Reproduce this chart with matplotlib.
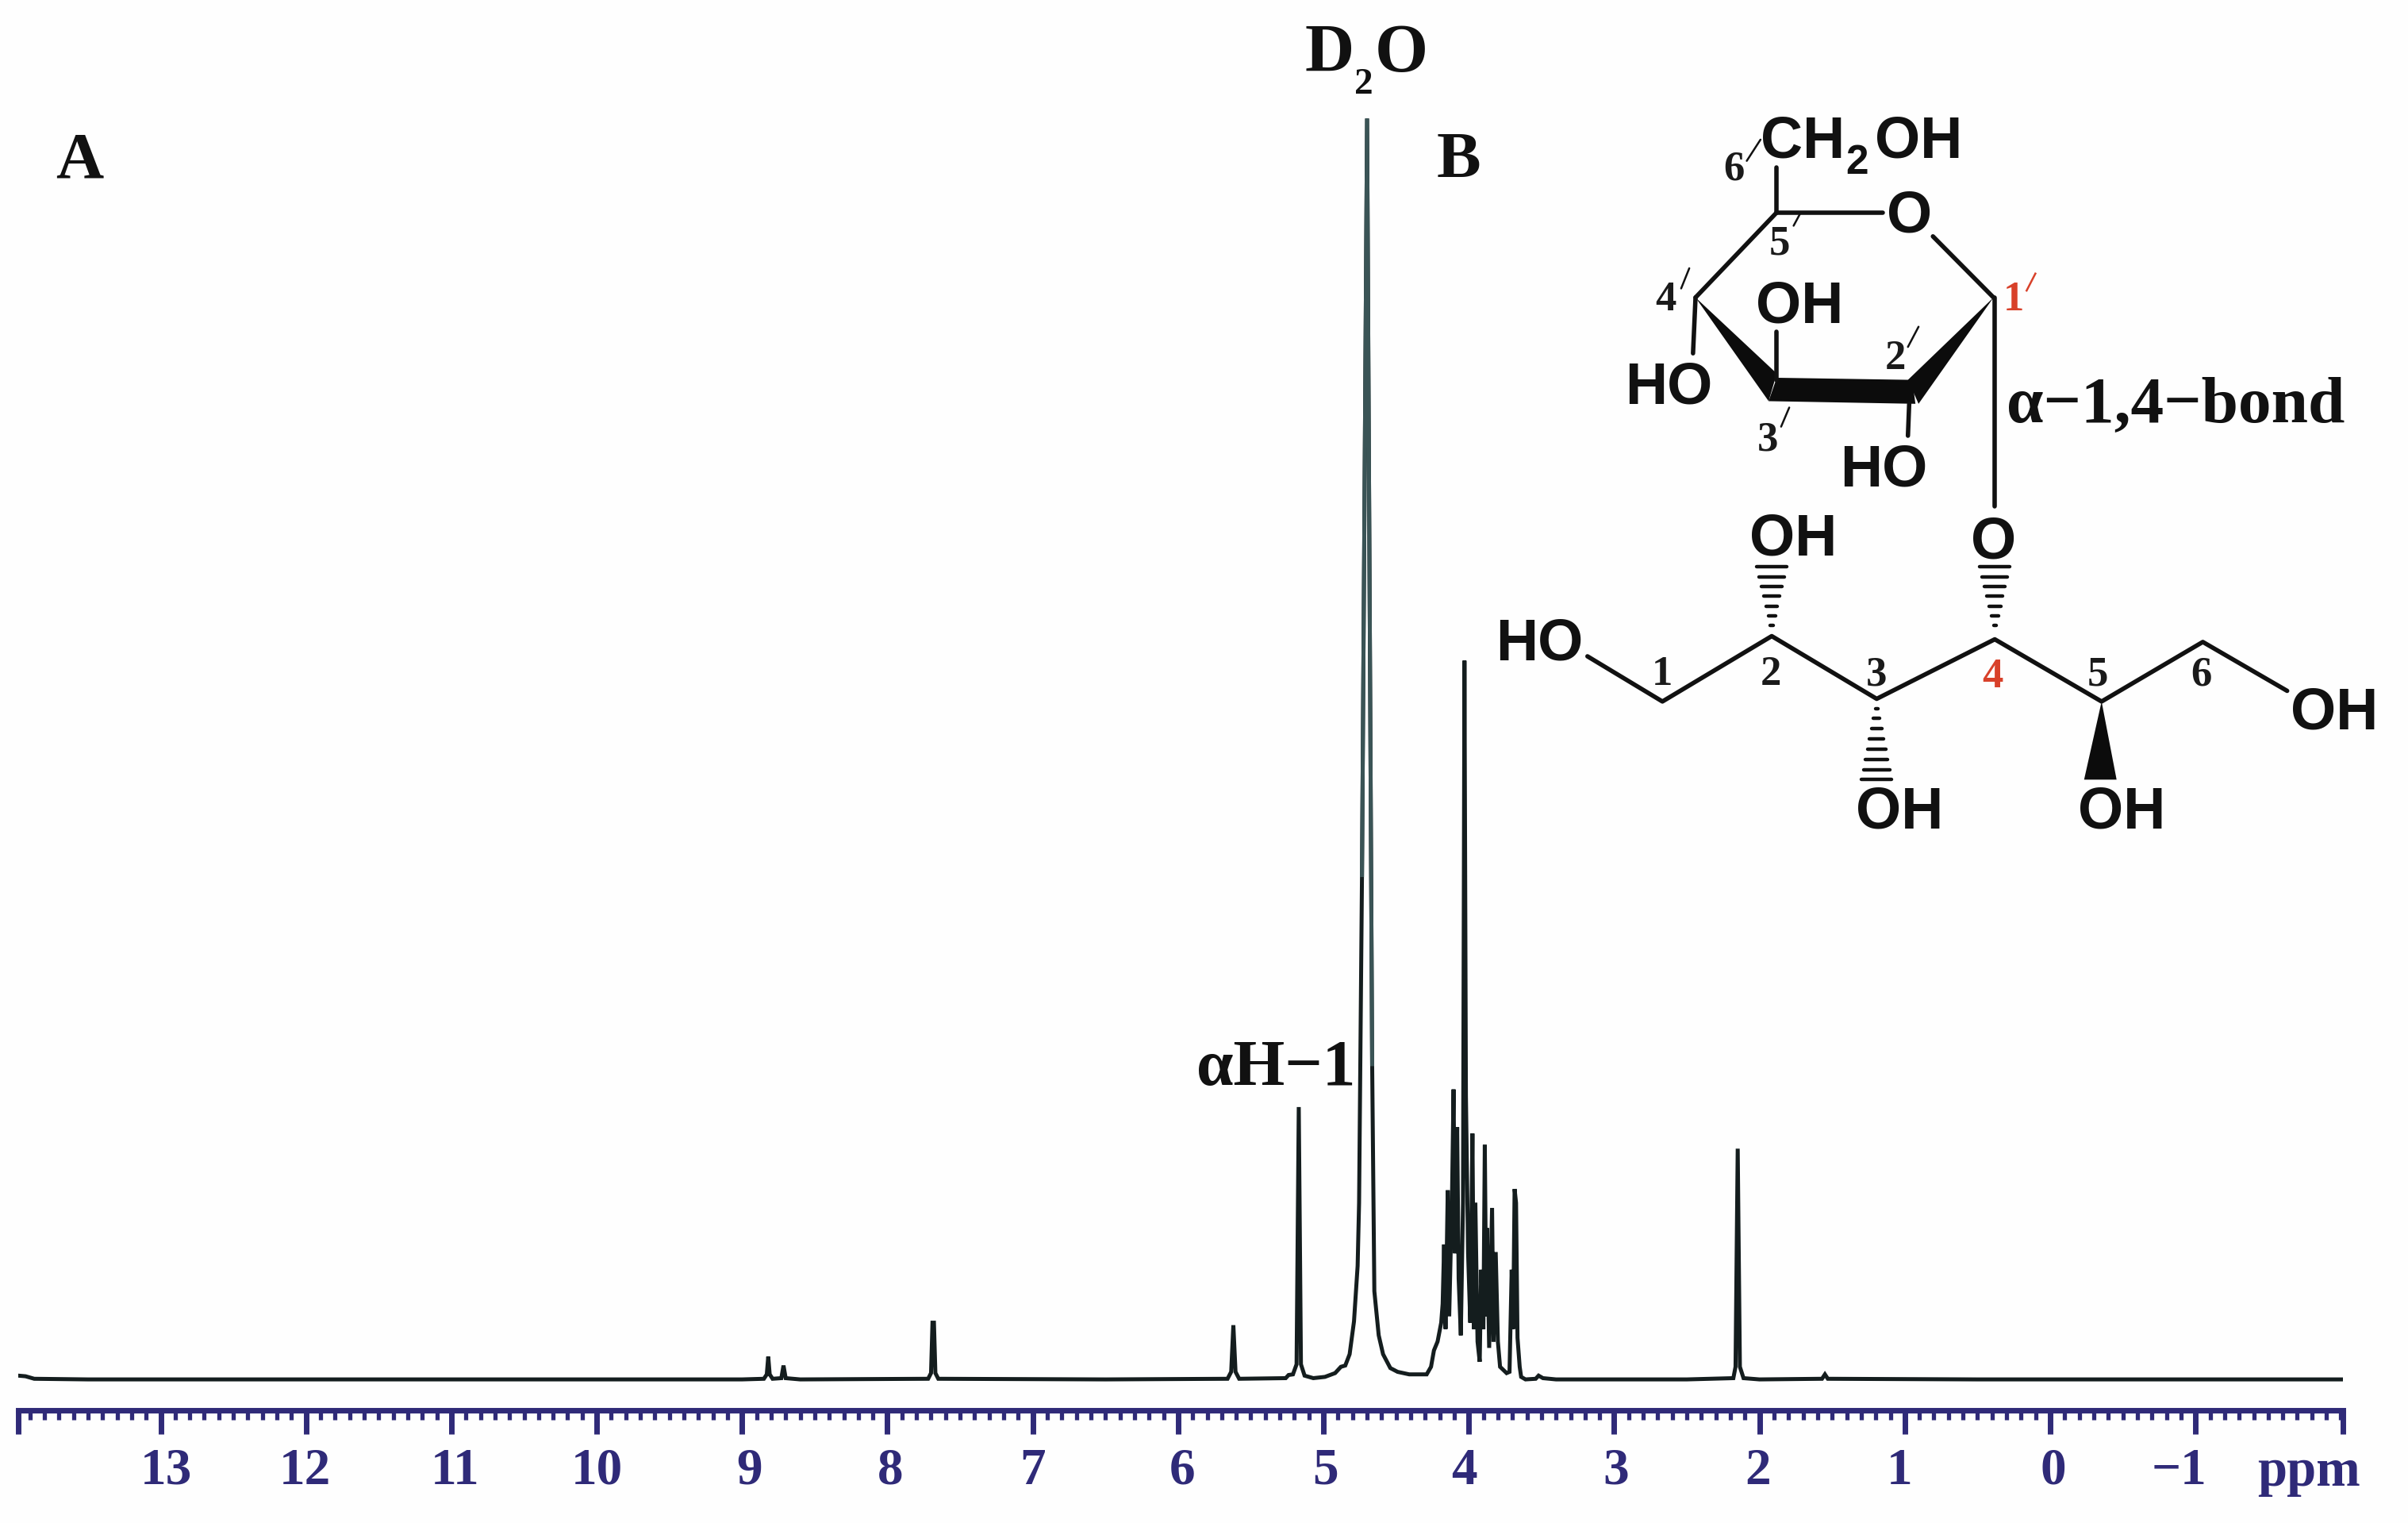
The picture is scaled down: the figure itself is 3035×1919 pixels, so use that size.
import matplotlib
matplotlib.use('Agg')
import matplotlib.pyplot as plt
from matplotlib.patches import Polygon
from matplotlib.transforms import ScaledTranslation
import numpy as np

# spectrum, intensity as percent of the D2O top
ppm = [13.98, 13.93, 13.87, 13.5, 12.0, 10.5, 9.0,
       8.85, 8.83, 8.82, 8.81, 8.79, 8.73, 8.715, 8.70, 8.6,
       7.72, 7.70, 7.69, 7.68, 7.67, 7.65, 6.5, 5.66,
       5.635, 5.62, 5.605, 5.58, 5.26, 5.24, 5.21, 5.185, 5.17, 5.155, 5.13, 5.07, 4.99,
       4.92, 4.88, 4.85, 4.82, 4.79, 4.765, 4.755, 4.735, 4.70, 4.665,
       4.65, 4.62, 4.59, 4.54, 4.49, 4.41, 4.29, 4.26, 4.24, 4.215, 4.19,
       4.18, 4.17, 4.16, 4.145, 4.135, 4.115, 4.105, 4.095, 4.08, 4.07, 4.055, 4.04,
       4.03, 4.02, 4.005, 3.99, 3.975, 3.965, 3.955, 3.94, 3.925, 3.915, 3.90, 3.89,
       3.88, 3.875, 3.86, 3.84, 3.83, 3.815, 3.80, 3.785, 3.74, 3.72, 3.705, 3.695,
       3.685, 3.675, 3.665, 3.65, 3.64, 3.61, 3.54, 3.52, 3.49, 3.4, 2.5, 2.18,
       2.165, 2.15, 2.135, 2.11, 2.0, 1.57, 1.55, 1.53, 0.5, -1.0, -2.014]
intensity = [0.3, 0.25, 0.05, 0.0, 0.0, 0.0, 0.0,
             0.05, 0.4, 1.8, 0.4, 0.05, 0.1, 1.1, 0.1, 0.0,
             0.05, 0.5, 4.5, 4.5, 0.5, 0.05, 0.0, 0.05,
             0.6, 4.3, 0.6, 0.05, 0.1, 0.35, 0.4, 1.2, 21.6, 1.2, 0.3, 0.1, 0.2,
             0.5, 1.0, 1.1, 2.0, 4.6, 9.0, 14.0, 40.0, 100.0, 25.0,
             7.0, 3.5, 2.0, 0.9, 0.6, 0.4, 0.4, 1.0, 2.3, 3.0, 4.5,
             6.0, 10.7, 4.0, 15.0, 5.0, 15.0, 23.0, 10.0, 20.0, 8.0, 3.5, 14.0,
             57.0, 22.5, 10.0, 4.5, 19.5, 4.0, 14.0, 3.0, 1.4, 8.7, 4.0, 18.6,
             5.0, 12.0, 2.5, 13.6, 3.0, 10.1, 3.0, 1.0, 0.5, 0.6, 8.7, 4.0,
             15.1, 14.0, 3.3, 1.0, 0.2, 0.0, 0.05, 0.3, 0.1, 0.0, 0.0, 0.1,
             1.0, 18.3, 1.0, 0.1, 0.0, 0.05, 0.4, 0.05, 0.0, 0.0, 0.0]

major_ticks = [13, 12, 11, 10, 9, 8, 7, 6, 5, 4, 3, 2, 1, 0, -1]
tick_labels = ['13', '12', '11', '10', '9', '8', '7', '6', '5', '4', '3', '2', '1', '0', '\u22121']

W, H = 3035, 1919
navy = '#2f2a78'
dark = '#141d1e'
serif = 'Liberation Serif'
sans = 'Liberation Sans'

fig = plt.figure(figsize=(W / 100, H / 100), dpi=100, facecolor='#fefefe')

# spectrum axes, the bottom spine is the ppm ruler
ax = fig.add_axes([23 / W, (H - 1777) / H, (2953 - 23) / W, 1777 / H])
ax.patch.set_alpha(0)
ax.plot(ppm, intensity, color=dark, lw=3.6, solid_joinstyle='miter')
ppm_arr = np.array(ppm)
int_arr = np.array(intensity)
top = (ppm_arr < 4.74) & (ppm_arr > 4.66)
ax.plot(ppm_arr[top], int_arr[top], color='#3a5456', lw=3.6, solid_joinstyle='miter')
ax.set_xlim(13.98, -2.014)
ax.set_ylim(-2.45, 109.4)
for s in ['top', 'left', 'right']:
    ax.spines[s].set_visible(False)
ax.spines['bottom'].set_color(navy)
ax.spines['bottom'].set_linewidth(5)
ax.set_yticks([])
ax.set_xticks(major_ticks + [13.98, -2.014])
ax.set_xticklabels(tick_labels + ['', ''], fontfamily=serif, fontweight='bold', fontsize=47, color=navy)
ax.set_xticks(np.arange(-20, 140) / 10, minor=True)
ax.tick_params(axis='x', which='major', length=21.5, width=5, color=navy, pad=12)
ax.tick_params(axis='x', which='minor', length=8.5, width=3.8, color=navy)

# the labels in the picture sit a little off their ticks
shifts = [7, -1, 5, 0, 9, 4, 0, 5, 2, -6, 2, -2, -7, 4, -21]
for lab, dx in zip(ax.get_xticklabels(), shifts):
    lab.set_transform(lab.get_transform() + ScaledTranslation(dx / 100, 0, fig.dpi_scale_trans))

# overlay in image pixels for the annotations and the molecule
ov = fig.add_axes([0, 0, 1, 1])
ov.set_xlim(0, W)
ov.set_ylim(H, 0)
ov.axis('off')
ov.patch.set_alpha(0)


def z(X, Y):
    # position in the zoomed crop of the molecule -> image pixels
    return 1800 + X / 1.27, 50 + Y / 1.493


def bond(*pts, lw=4.0):
    xy = [z(*p) for p in pts]
    ov.plot([p[0] for p in xy], [p[1] for p in xy], color='#111111', lw=lw, solid_capstyle='round')


def fill(*pts):
    ov.add_patch(Polygon([z(*p) for p in pts], closed=True, color='#0c0c0c', lw=0))


def hash_bond(X, y0, y1, w0, w1, n=7):
    for i in range(n):
        f = i / (n - 1)
        Y = y0 + (y1 - y0) * f
        w = w0 + (w1 - w0) * f
        bond((X - w, Y), (X + w, Y), lw=3.2)


def atom(X, Y, s, size=53):
    x, y = z(X, Y)
    ov.text(x, y + 4, s, family=sans, fontweight='bold', fontsize=size, ha='center', va='center', color='#111111')


def num(X, Y, s, color='#1a1a1a', size=38):
    x, y = z(X, Y)
    ov.text(x, y + 3, s, family=serif, fontweight='bold', fontsize=size, ha='center', va='center', color=color)


# ring
bond((558, 240), (558, 325))
bond((558, 325), (728, 325))
bond((808, 370), (905, 485))
bond((558, 325), (428, 485))
bond((428, 485), (424, 590))
bond((558, 550), (558, 640))
bond((770, 685), (768, 745))
bond((907, 485), (907, 878))
fill((428, 485), (558, 628), (545, 680))
fill((558, 636), (775, 640), (780, 685), (545, 680))
fill((905, 485), (768, 640), (785, 685))

# open chain
bond((255, 1160), (375, 1245), (550, 1122), (718, 1240), (907, 1128), (1078, 1245), (1240, 1133), (1375, 1225))
hash_bond(550, 1102, 992, 2, 24)
hash_bond(907, 1102, 992, 2, 24)
hash_bond(718, 1258, 1392, 2, 24, n=8)
fill((1078, 1245), (1050, 1392), (1102, 1392))

atom(770, 327, 'O')
atom(595, 497, 'OH')
atom(385, 650, 'HO')
atom(730, 805, 'HO')
atom(905, 940, 'O')
atom(585, 935, 'OH')
atom(178, 1132, 'HO')
atom(755, 1448, 'OH')
atom(1110, 1448, 'OH')
atom(1450, 1262, 'OH')
atom(600, 187, 'CH')
atom(686, 226, '2', size=37)
atom(785, 187, 'OH')

for X, Y, s in [(375, 1190, '1'), (548, 1190, '2'), (718, 1190, '3'), (1072, 1190, '5'), (1238, 1190, '6'),
                (490, 240, '6'), (563, 380, '5'), (380, 485, '4'), (748, 595, '2'), (543, 748, '3')]:
    num(X, Y, s)
num(903, 1195, '4', color='#d8412a')
num(937, 485, '1', color='#d8412a')

# primes are long thin slashes in the picture
for a, b in [((510, 228), (532, 188)), ((585, 350), (596, 326)), ((405, 468), (418, 430)),
             ((768, 578), (785, 540)), ((565, 728), (578, 692))]:
    bond(a, b, lw=1.8)
xy1, xy2 = z(958, 472), z(972, 440)
ov.plot([xy1[0], xy2[0]], [xy1[1], xy2[1]], color='#d8412a', lw=1.8)

x, y = z(1197, 682)
ov.text(x, y + 5, '\u03b1\u22121,4\u2212bond', family=serif, fontweight='bold', fontsize=60, ha='center', va='center', color='#111111')

# panel letters and peak labels
ov.text(100, 223, 'A', family=serif, fontweight='bold', fontsize=60, ha='center', va='baseline', color='#111111')
ov.text(1838, 223, 'B', family=serif, fontweight='bold', fontsize=60, ha='center', va='baseline', color='#111111')
ov.text(1608, 1367, '\u03b1H\u22121', family=serif, fontweight='bold', fontsize=60, ha='center', va='baseline', color='#111111')
ov.text(1676, 90, 'D', family=serif, fontweight='bold', fontsize=62, ha='center', va='baseline', color='#111111')
ov.text(1719, 118, '2', family=serif, fontweight='bold', fontsize=34, ha='center', va='baseline', color='#111111')
ov.text(1766, 90, 'O', family=serif, fontweight='bold', fontsize=62, ha='center', va='baseline', color='#111111')
ov.text(2910, 1872, 'ppm', family=serif, fontweight='bold', fontsize=48, ha='center', va='baseline', color=navy)

fig.savefig('out.png', dpi=100, facecolor=fig.get_facecolor())
